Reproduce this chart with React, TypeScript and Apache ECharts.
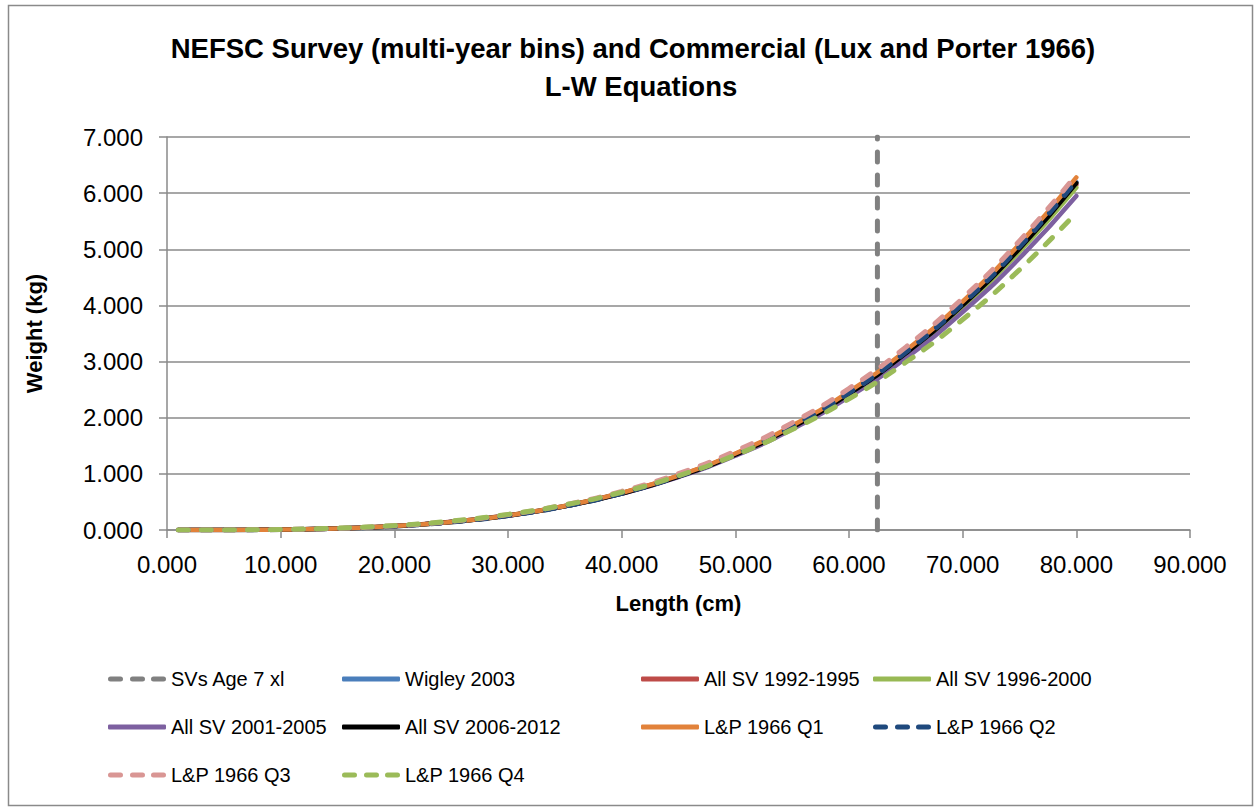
import React, { useEffect, useRef } from 'react';
import * as echarts from 'echarts';

const FONT = '"Liberation Sans", Arial, sans-serif';

const titleLine1 = 'NEFSC Survey (multi-year bins) and Commercial (Lux and Porter 1966)';
const titleLine2 = 'L-W Equations';
const xAxisName = 'Length (cm)';
const yAxisName = 'Weight (kg)';

// lengths (cm)
const lengths = [1, 5, 10, 15, 20, 25, 30, 35, 40, 45, 50, 55, 60, 65, 70, 75, 80];

// weights (kg)
const wigley2003 = [0.0, 0.0008, 0.0072, 0.0269, 0.0685, 0.1415, 0.2559, 0.4222, 0.6517, 0.9555, 1.346, 1.835, 2.434, 3.158, 4.018, 5.028, 6.2];
const allSv1992 = [0.0, 0.0008, 0.0076, 0.0281, 0.0708, 0.1453, 0.2614, 0.4293, 0.6601, 0.9644, 1.354, 1.84, 2.435, 3.152, 4.001, 4.997, 6.15];
const allSv1996 = [0.0, 0.0008, 0.0075, 0.0278, 0.0703, 0.1441, 0.2593, 0.4258, 0.6547, 0.9565, 1.343, 1.825, 2.416, 3.126, 3.969, 4.956, 6.1];
const allSv2001 = [0.0, 0.0008, 0.0077, 0.028, 0.0705, 0.1439, 0.2579, 0.4223, 0.6475, 0.9438, 1.322, 1.794, 2.37, 3.062, 3.881, 4.84, 5.95];
const allSv2006 = [0.0, 0.0008, 0.0072, 0.0268, 0.0683, 0.141, 0.255, 0.4209, 0.6496, 0.9525, 1.342, 1.829, 2.426, 3.148, 4.005, 5.011, 6.18];
const lpQ1 = [0.0, 0.0008, 0.0073, 0.0272, 0.0694, 0.1433, 0.2592, 0.4277, 0.6602, 0.9679, 1.363, 1.858, 2.465, 3.198, 4.069, 5.092, 6.28];
const lpQ2 = [0.0, 0.0008, 0.0072, 0.027, 0.0687, 0.1419, 0.2567, 0.4236, 0.6538, 0.9586, 1.35, 1.84, 2.442, 3.168, 4.03, 5.044, 6.22];
const lpQ3 = [0.0, 0.0009, 0.0082, 0.0298, 0.075, 0.1531, 0.2743, 0.4492, 0.6888, 1.004, 1.407, 1.909, 2.521, 3.258, 4.129, 5.149, 6.33];
const lpQ4 = [0.0, 0.0011, 0.0095, 0.0331, 0.0801, 0.1589, 0.2782, 0.4466, 0.6729, 0.9659, 1.335, 1.789, 2.336, 2.987, 3.75, 4.635, 5.65];

// vertical marker: SVs Age 7 xl
const age7Length = 62.5;
const age7Weights = [0, 7];

// axis ticks
const xTicks = { min: 0, max: 90, interval: 10 };
const yTicks = { min: 0, max: 7, interval: 1 };

const pairs = (ys: number[]) => lengths.map((l, i) => [l, ys[i]]);

const SOLID_ICON = 'roundRect';
const DASH_ICON =
  'path://M2.5,0h10a2.5,2.5 0 0 1 0,5h-10a2.5,2.5 0 0 1 0,-5z M24.5,0h10a2.5,2.5 0 0 1 0,5h-10a2.5,2.5 0 0 1 0,-5z M45.5,0h10a2.5,2.5 0 0 1 0,5h-10a2.5,2.5 0 0 1 0,-5z';

export default function App() {
  const ref = useRef<HTMLDivElement>(null);
  useEffect(() => {
    if (!ref.current) return;
    const chart = echarts.init(ref.current, null, { renderer: 'svg' });

    const solid = (name: string, data: number[], color: string) => ({
      name,
      type: 'line',
      data: pairs(data),
      smooth: true,
      symbol: 'none',
      lineStyle: { color, width: 4.5, cap: 'round' },
      itemStyle: { color },
    });
    const dashed = (name: string, data: number[], color: string) => ({
      name,
      type: 'line',
      data: pairs(data),
      smooth: true,
      symbol: 'none',
      lineStyle: { color, width: 5, type: [10, 13], cap: 'round' },
      itemStyle: { color },
    });

    const legendBase = {
      orient: 'vertical',
      top: 664,
      itemWidth: 58,
      itemHeight: 5,
      itemGap: 28,
      itemTextGap: 9,
      textStyle: { fontSize: 20, fontFamily: FONT, color: '#000' },
    };
    const s = (name: string) => ({ name, icon: SOLID_ICON });
    const d = (name: string) => ({ name, icon: DASH_ICON });

    chart.setOption({
      animation: false,
      backgroundColor: '#fff',
      textStyle: { fontFamily: FONT },
      grid: { left: 167, right: 65, top: 137, bottom: 277, containLabel: false },
      graphic: [
        {
          type: 'rect',
          shape: { x: 8.5, y: 5.5, width: 1244, height: 800 },
          style: { fill: 'none', stroke: '#8a8a8a', lineWidth: 1.5 },
          silent: true,
        },
        {
          type: 'text',
          x: 633,
          y: 48,
          style: { text: titleLine1, fontSize: 27.5, fontWeight: 'bold', fontFamily: FONT, fill: '#000', align: 'center', verticalAlign: 'middle' },
        },
        {
          type: 'text',
          x: 641,
          y: 86,
          style: { text: titleLine2, fontSize: 27.5, fontWeight: 'bold', fontFamily: FONT, fill: '#000', align: 'center', verticalAlign: 'middle' },
        },
      ],
      legend: [
        { ...legendBase, left: 103, data: [d('SVs Age 7 xl'), s('All SV 2001-2005'), d('L&P 1966 Q3')] },
        { ...legendBase, left: 337, data: [s('Wigley 2003'), s('All SV 2006-2012'), d('L&P 1966 Q4')] },
        { ...legendBase, left: 636, data: [s('All SV 1992-1995'), s('L&P 1966 Q1')] },
        { ...legendBase, left: 868, data: [s('All SV 1996-2000'), d('L&P 1966 Q2')] },
      ],
      xAxis: {
        type: 'value',
        ...xTicks,
        name: xAxisName,
        nameLocation: 'middle',
        nameGap: 62,
        nameTextStyle: { fontSize: 22, fontWeight: 'bold', color: '#000', fontFamily: FONT },
        axisLine: { show: true, lineStyle: { color: '#8a8a8a', width: 1.5 } },
        axisTick: { show: true, length: 8, lineStyle: { color: '#8a8a8a', width: 1.5 } },
        axisLabel: { fontSize: 24, color: '#000', margin: 22, formatter: (v: number) => v.toFixed(3) },
        splitLine: { show: false },
      },
      yAxis: {
        type: 'value',
        ...yTicks,
        name: yAxisName,
        nameLocation: 'middle',
        nameGap: 122,
        nameTextStyle: { fontSize: 22, fontWeight: 'bold', color: '#000', fontFamily: FONT },
        axisLine: { show: true, lineStyle: { color: '#8a8a8a', width: 1.5 } },
        axisTick: { show: true, length: 8, lineStyle: { color: '#8a8a8a', width: 1.5 } },
        axisLabel: { fontSize: 24, color: '#000', margin: 24, formatter: (v: number) => v.toFixed(3) },
        splitLine: { show: true, lineStyle: { color: '#8a8a8a', width: 1.5 } },
      },
      series: [
        {
          name: 'SVs Age 7 xl',
          type: 'line',
          data: age7Weights.map((w) => [age7Length, w]),
          symbol: 'none',
          lineStyle: { color: '#808080', width: 5, type: [10, 13], cap: 'round' },
          itemStyle: { color: '#808080' },
        },
        solid('Wigley 2003', wigley2003, '#4A7EBB'),
        solid('All SV 1992-1995', allSv1992, '#BE4B48'),
        solid('All SV 1996-2000', allSv1996, '#98B954'),
        solid('All SV 2001-2005', allSv2001, '#7D60A0'),
        solid('All SV 2006-2012', allSv2006, '#000000'),
        solid('L&P 1966 Q1', lpQ1, '#E2823A'),
        dashed('L&P 1966 Q2', lpQ2, '#1F497D'),
        dashed('L&P 1966 Q3', lpQ3, '#D99694'),
        dashed('L&P 1966 Q4', lpQ4, '#9BBB59'),
      ],
    });
    return () => chart.dispose();
  }, []);
  return (
    <div
      ref={ref}
      style={{ position: 'absolute', left: 0, top: 0, width: 1255, height: 807, background: '#fff' }}
    />
  );
}
